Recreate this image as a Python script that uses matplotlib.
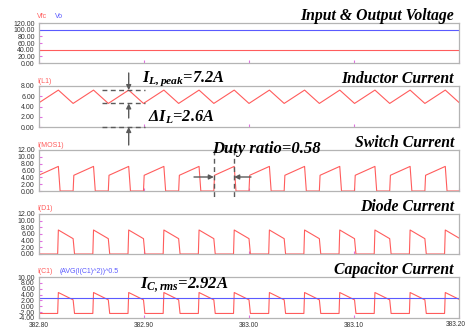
import numpy as np
import matplotlib
matplotlib.use("Agg")
import matplotlib.pyplot as plt
from matplotlib.transforms import IdentityTransform
from matplotlib.lines import Line2D
from matplotlib.patches import FancyArrowPatch

plt.rcParams["mathtext.fontset"] = "custom"
plt.rcParams["mathtext.it"] = "Liberation Serif:italic:bold"
plt.rcParams["mathtext.rm"] = "Liberation Serif:italic:bold"
plt.rcParams["mathtext.bf"] = "Liberation Serif:italic:bold"

W, H = 467, 329

# time axis (ms)
T_START, T_END = 382.80, 383.20
X_TICKS = [382.80, 382.90, 383.00, 383.10, 383.20]
X_TICK_LABELS = ["382.80", "382.90", "383.00", "383.10", "383.20"]

# switching waveform
PERIOD = 0.0335
FIRST_VALLEY = 382.799
N_PERIODS = 13
DUTY = 0.58

# one period, starting at the inductor-current valley (fraction of period)
IL_FRAC = [0.00, 0.58, 1.00]
IL_VAL = [4.6, 7.2, 4.6]
SW_FRAC = [0.00, 0.02, 0.58, 0.63, 1.00]
SW_VAL = [0.0, 4.6, 7.2, 0.0, 0.0]
D_FRAC = [0.00, 0.04, 0.56, 0.58, 1.00]
D_VAL = [4.6, 0.0, 0.0, 7.2, 4.6]
C_FRAC = [0.00, 0.04, 0.56, 0.58, 1.00]
C_VAL = [2.2, -2.45, -2.45, 4.7, 2.2]

VFC = 40.0
VO = 100.0
IC_RMS = 2.92

RED = "#ff5c5c"
BLUE = "#5a5aff"
FRAME = "#b4b4b4"
MAGENTA = "#e070e0"
ANN = "#5a5a5a"

# panels: (top px, bottom px, ymin, ymax, yticks, title)
PANELS = [
    (23, 63, 0, 120, [0, 20, 40, 60, 80, 100, 120], "Input & Output Voltage"),
    (86, 127, 0, 8, [0, 2, 4, 6, 8], "Inductor Current"),
    (150, 191, 0, 12, [0, 2, 4, 6, 8, 10, 12], "Switch Current"),
    (214, 254, 0, 12, [0, 2, 4, 6, 8, 10, 12], "Diode Current"),
    (277, 318, -4, 10, [-4, -2, 0, 2, 4, 6, 8, 10], "Capacitor Current"),
]
AX_LEFT, AX_RIGHT = 39, 459


def periodic(frac, vals):
    ts, vs = [], []
    for k in range(-1, N_PERIODS):
        ts.extend(FIRST_VALLEY + (k + np.asarray(frac)) * PERIOD)
        vs.extend(vals)
    return np.array(ts), np.array(vs)


def px_x(t):
    return AX_LEFT + (t - T_START) / (T_END - T_START) * (AX_RIGHT - AX_LEFT)


ID = IdentityTransform()
fig = plt.figure(figsize=(W / 100, H / 100), dpi=100)


def ftext(x, y, s, **kw):
    fig.text(x, H - y, s, transform=ID, **kw)


def fline(xs, ys, **kw):
    fig.add_artist(Line2D(xs, [H - y for y in ys], transform=ID, **kw))


def farrow(x0, y0, x1, y1):
    fig.add_artist(FancyArrowPatch((x0, H - y0), (x1, H - y1), transform=ID,
                                   arrowstyle="-|>", mutation_scale=7,
                                   color=ANN, lw=1.0, shrinkA=0, shrinkB=0))


axes = []
for i, (top, bot, y0, y1, yt, title) in enumerate(PANELS):
    ax = fig.add_axes([AX_LEFT / W, 1 - bot / H, (AX_RIGHT - AX_LEFT) / W,
                       (bot - top) / H])
    ax.set_xlim(T_START, T_END)
    ax.set_ylim(y0, y1)
    ax.set_yticks(yt)
    ax.set_yticklabels([f"{v:.2f}" for v in yt], fontsize=5,
                       family="Liberation Sans", color="#333333")
    ax.set_xticks(X_TICKS)
    if i == len(PANELS) - 1:
        # last label drawn by hand so it stays inside the picture
        ax.set_xticklabels(X_TICK_LABELS[:-1] + [""], fontsize=4.8,
                           family="Liberation Sans", color="#333333")
        ftext(AX_RIGHT - 3, bot + 7, X_TICK_LABELS[-1], ha="center",
              va="center", fontsize=4.8, family="Liberation Sans",
              color="#333333")
    else:
        ax.set_xticklabels([])
    ax.tick_params(direction="in", length=2, width=0.8, color=MAGENTA, pad=3)
    for s in ax.spines.values():
        s.set_color(FRAME)
        s.set_linewidth(0.9)
    ftext(454, top - 3, title, ha="right", va="baseline", fontsize=11.3,
          family="Liberation Serif", weight="bold", style="italic")
    axes.append(ax)

lw = 0.8
# input & output voltage
axes[0].axhline(VFC, color=RED, lw=lw)
axes[0].axhline(VO, color=BLUE, lw=lw)
ftext(37, 17, "Vfc", color=RED, fontsize=5, family="Liberation Sans", va="center")
ftext(55, 17, "Vo", color=BLUE, fontsize=5, family="Liberation Sans", va="center")

t, v = periodic(IL_FRAC, IL_VAL)
axes[1].plot(t, v, color=RED, lw=lw)
ftext(37, 81.5, "I(L1)", color=RED, fontsize=5, family="Liberation Sans", va="center")

t, v = periodic(SW_FRAC, SW_VAL)
axes[2].plot(t, v, color=RED, lw=lw)
ftext(37, 145.5, "I(MOS1)", color=RED, fontsize=5, family="Liberation Sans", va="center")

t, v = periodic(D_FRAC, D_VAL)
axes[3].plot(t, v, color=RED, lw=lw)
ftext(37, 209, "I(D1)", color=RED, fontsize=5, family="Liberation Sans", va="center")

t, v = periodic(C_FRAC, C_VAL)
axes[4].plot(t, v, color=RED, lw=lw)
axes[4].axhline(IC_RMS, color=BLUE, lw=lw)
ftext(37, 271.5, "I(C1)", color=RED, fontsize=5, family="Liberation Sans", va="center")
ftext(60, 271.5, "(AVG(I(C1)^2))^0.5", color=BLUE, fontsize=5,
      family="Liberation Sans", va="center")

# inductor current annotations
top2, bot2 = PANELS[1][0], PANELS[1][1]


def py2(val):
    return bot2 - val / 8 * (bot2 - top2)


peak_x = px_x(FIRST_VALLEY + (2 + DUTY) * PERIOD)
for lvl in (IL_VAL[1], IL_VAL[0], 0.0):
    fline([102, 145], [py2(lvl)] * 2, color=ANN, lw=1.0, ls=(0, (3.5, 2.5)))
farrow(peak_x, 73, peak_x, py2(IL_VAL[1]))
farrow(peak_x, 118, peak_x, py2(IL_VAL[0]))
farrow(peak_x, 145, peak_x, py2(0.0))
ftext(142, 82, r"$I_{L,peak}$=7.2A", fontsize=11.8, family="Liberation Serif",
      weight="bold", style="italic", va="baseline")
ftext(148, 122, r"Δ$I_{L}$=2.6A", fontsize=11.8, family="Liberation Serif",
      weight="bold", style="italic", va="baseline")

# duty ratio annotation
on_x = px_x(FIRST_VALLEY + 5 * PERIOD)
off_x = px_x(FIRST_VALLEY + (5 + DUTY) * PERIOD)
for xx in (on_x, off_x):
    fline([xx, xx], [150, 200], color=ANN, lw=1.0, ls=(0, (3.5, 2.5)))
farrow(194, 177, on_x, 177)
farrow(251, 177, off_x, 177)
ftext(212, 153, "Duty ratio=0.58", fontsize=12, family="Liberation Serif",
      weight="bold", style="italic", va="baseline")

# capacitor rms annotation
ftext(140, 288, r"$I_{C,rms}$=2.92A", fontsize=12, family="Liberation Serif",
      weight="bold", style="italic", va="baseline")

fig.savefig("out.png", dpi=100, facecolor="white")
